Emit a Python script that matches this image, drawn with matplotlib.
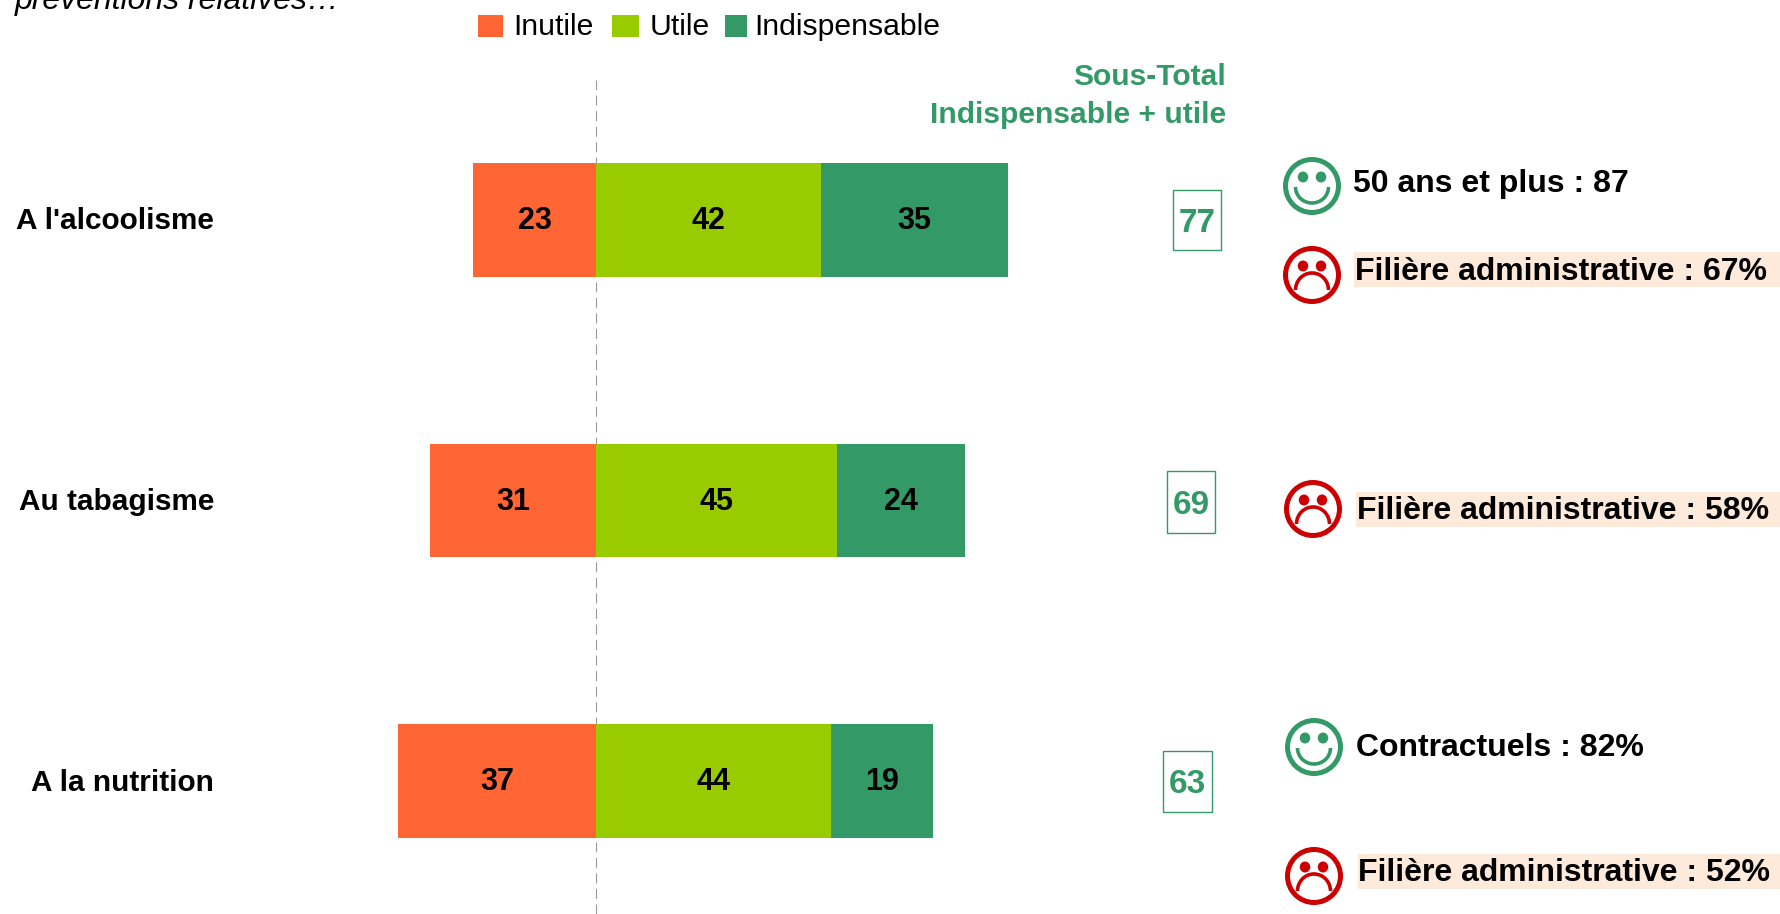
import matplotlib
matplotlib.use("Agg")
import matplotlib.pyplot as plt
from matplotlib.patches import Ellipse, Arc, Rectangle

plt.rcParams['font.family'] = ['Liberation Sans', 'DejaVu Sans']

categories = ["A l'alcoolisme", "Au tabagisme", "A la nutrition"]
inutile = [23, 31, 37]
utile = [42, 45, 44]
indispensable = [35, 24, 19]
sous_total = [77, 69, 63]
series_names = ["Inutile", "Utile", "Indispensable"]

ORANGE, LIME, GREEN, RED, PEACH = "#FF6633", "#99CC00", "#339966", "#CC0000", "#FDEADA"
W, H = 1781, 914
fig = plt.figure(figsize=(W / 100, H / 100), dpi=100, facecolor="white")

# Main axes: full figure, zero line at x=596 px, 5.35 px per unit, rows 280.5 px apart
ax = fig.add_axes([0, 0, 1, 1])
ax.set_xlim(-596 / 5.35, (W - 596) / 5.35)
ax.set_ylim((H - 220) / 280.5, -220 / 280.5)
ax.axis("off")

ypos = list(range(len(categories)))
bh = 0.403
ax.axvline(0, ymax=1 - 80 / H, color="#999999", lw=0.8, dashes=(9, 5), zorder=1)
ax.barh(ypos, [-v for v in inutile], height=bh, color=ORANGE, zorder=2)
ax.barh(ypos, utile, height=bh, color=LIME, zorder=2)
ax.barh(ypos, indispensable, left=utile, height=bh, color=GREEN, zorder=2)
for y, a, b, c in zip(ypos, inutile, utile, indispensable):
    for xc, v in ((-a / 2, a), (b / 2, b), (b + c / 2, c)):
        ax.text(xc, y + 0.004, str(v), ha="center", va="center", fontsize=22,
                fontweight="bold", color="black", zorder=3)

# Overlay in pixel coordinates for annotations
ov = fig.add_axes([0, 0, 1, 1], facecolor="none")
ov.set_xlim(0, W)
ov.set_ylim(H, 0)
ov.axis("off")

ov.text(15, 1, "préventions relatives…", style="italic", fontsize=23, ha="left", va="center")

# Legend
swatches = [(478, 25), (612, 27), (725, 22)]
text_x = [513, 650, 754]
for (sx, sw), tx, nm, col in zip(swatches, text_x, series_names, [ORANGE, LIME, GREEN]):
    ov.add_patch(Rectangle((sx, 15), sw, 22, color=col, lw=0))
    ov.text(tx, 27, nm, fontsize=21.7, ha="left", va="center")

# Category labels
for lab, py in zip(categories, [221, 502, 783]):
    ov.text(214, py, lab, fontsize=21.4, fontweight="bold", ha="right", va="center")

# Subtotal header
ov.text(1226, 77, "Sous-Total", color=GREEN, fontsize=21.6, fontweight="bold", ha="right", va="center")
ov.text(1226, 115, "Indispensable + utile", color=GREEN, fontsize=21.6, fontweight="bold", ha="right", va="center")

# Subtotal boxes
boxes = [(1173, 190, 48, 60), (1167, 471, 48, 62), (1163, 751, 49, 61)]
for (bx, by, bw, bhh), v in zip(boxes, sous_total):
    ov.add_patch(Rectangle((bx, by), bw, bhh, fill=False, ec=GREEN, lw=1))
    ov.text(bx + bw / 2, by + bhh / 2 + 3, str(v), color=GREEN, fontsize=24,
            fontweight="bold", ha="center", va="center")


def face(cx, cy, happy):
    col = GREEN if happy else RED
    ov.add_patch(Ellipse((cx, cy), 53, 53, fill=False, ec=col, lw=3.6))
    for dx in (-9, 9):
        ov.add_patch(Ellipse((cx + dx, cy - 9), 10.5, 11, color=col, lw=0))
    if happy:
        ov.add_patch(Arc((cx, cy + 1), 33, 32, theta1=0, theta2=180, ec=col, lw=2.6))
    else:
        ov.add_patch(Arc((cx, cy + 15), 33, 34, theta1=180, theta2=360, ec=col, lw=2.6))


notes = [
    (1312, 186, True, 1353, 184, "50 ans et plus : 87", None),
    (1312, 275, False, 1355, 272, "Filière administrative : 67%", (1354, 252, 35)),
    (1313, 509, False, 1357, 511, "Filière administrative : 58%", (1356, 492, 35)),
    (1314, 747, True, 1356, 748, "Contractuels : 82%", None),
    (1314, 876, False, 1358, 873, "Filière administrative : 52%", (1358, 854, 35)),
]
for cx, cy, happy, tx, ty, txt, bg in notes:
    face(cx, cy, happy)
    if bg:
        ov.add_patch(Rectangle((bg[0], bg[1]), W - bg[0], bg[2], color=PEACH, lw=0))
    ov.text(tx, ty, txt, fontsize=23, fontweight="bold", ha="left", va="center", zorder=4)

fig.savefig("out.png", dpi=100)
